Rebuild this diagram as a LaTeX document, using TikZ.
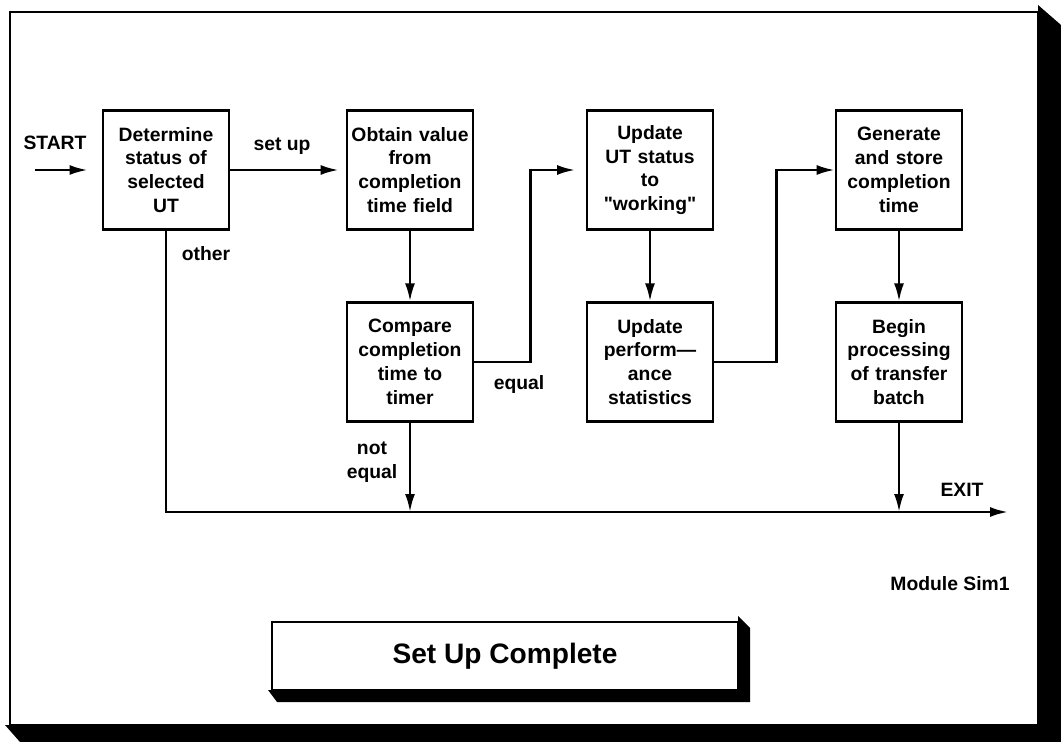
\documentclass[tikz,border=0pt]{standalone}
\usepackage{fontspec}
\setmainfont{Liberation Sans}
\usetikzlibrary{arrows.meta}

\tikzset{
  box/.style={draw, line width=1.6pt, minimum width=2.52cm, minimum height=2.37cm,
    inner sep=0pt, text width=2.42cm, align=center,
    font=\bfseries\fontsize{11}{13.6}\selectfont},
  lbl/.style={font=\bfseries\fontsize{11}{13.6}\selectfont, inner sep=0pt, align=center},
  flow/.style={line width=1.4pt, -{Latex[length=0.36cm,width=0.2cm]}},
  line/.style={line width=1.4pt}
}

\begin{document}
\begin{tikzpicture}[x=0.02cm,y=-0.02cm]
        \useasboundingbox (0,0) rectangle (1061,742);

        % Outer frame with its shadow
        \fill (1038,5) -- (1061,25) -- (1061,742) -- (20,742) -- (5,725) -- (1038,725) -- cycle;
        \fill[white] (10,12) rectangle (1038,725);
        \draw[line width=1.6pt] (10,12) rectangle (1038,725);

        % Upper row of boxes
        \node[box] (status) at (166,170) {Determine\\status of\\selected\\UT};
        \node[box] (obtain) at (410,170) {Obtain value\\from\\completion\\time field};
        \node[box] (working) at (650,170) {Update\\UT status\\to\\\textquotedbl working\textquotedbl};
        \node[box] (generate) at (899,170) {Generate\\and store\\completion\\time};

        % Lower row of boxes
        \node[box] (compare) at (410,362) {Compare\\completion\\time to\\timer};
        \node[box] (perf) at (650,362) {Update\\perform---\\ance\\statistics};
        \node[box] (batch) at (899,362) {Begin\\processing\\of transfer\\batch};

        % Free ends
        \coordinate (start) at (35,170);
        \coordinate (exit) at (1008,512);

        % Connectors
        \draw[flow, shorten >=8pt] (start) -- (status.west);
        \draw[flow, shorten >=4pt] (status.east) -- (obtain.west);
        \draw[flow] (obtain.south) -- (compare.north);
        \draw[flow, shorten >=6pt] (compare.east) -- ++(56,0) |- (working.west);
        \draw[flow] (working.south) -- (perf.north);
        \draw[flow] (perf.east) -- ++(62,0) |- (generate.west);
        \draw[flow] (generate.south) -- (batch.north);
        \draw[flow] (batch.south) -- (batch.south |- exit);
        \draw[flow] (compare.south) -- (compare.south |- exit);
        \draw[flow] (status.south) |- (exit);

        % Labels
        \node[lbl] (startlbl) at (55,143) {START};
        \node[lbl] (setup) at (282,146) {set up};
        \node[lbl] (other) at (206,254) {other};
        \node[lbl] (equal) at (519,385) {equal};
        \node[lbl] (noteq) at (372,462) {not\\equal};
        \node[lbl] (exitlbl) at (962,490) {EXIT};
        \node[lbl, anchor=east] (module) at (1010,584) {Module Sim1};

        % Title box with its shadow
        \fill (738,616) -- (750,628) -- (750,702) -- (277,702) -- (268,690) -- (738,690) -- cycle;
        \node[draw, fill=white, line width=1.6pt, minimum width=9.32cm, minimum height=1.36cm,
          font=\bfseries\fontsize{16}{19}\selectfont] (title) at (505,656) {Set Up Complete};
\end{tikzpicture}
\end{document}
